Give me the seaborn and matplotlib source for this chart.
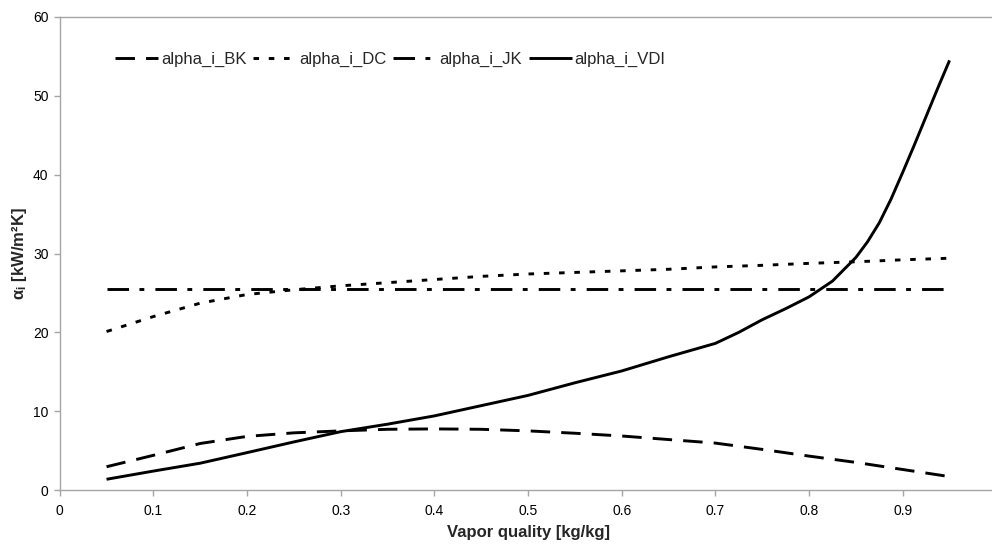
import matplotlib
matplotlib.use("Agg")
import matplotlib.pyplot as plt
import seaborn as sns
import pandas as pd

# Vapor quality grid [kg/kg]
quality = [0.05, 0.10, 0.15, 0.20, 0.25, 0.30, 0.35, 0.40, 0.45, 0.50,
           0.55, 0.60, 0.65, 0.70, 0.75, 0.80, 0.85, 0.90, 0.95]
quality_vdi = [0.05, 0.10, 0.15, 0.20, 0.25, 0.30, 0.35, 0.40, 0.45, 0.50,
               0.55, 0.60, 0.65, 0.70, 0.725, 0.75, 0.775, 0.80, 0.825, 0.85,
               0.8625, 0.875, 0.8875, 0.90, 0.9125, 0.925, 0.9375, 0.95]

# Heat transfer coefficients [kW/m2K]
alpha_bk = [2.95, 4.4, 5.9, 6.8, 7.25, 7.5, 7.7, 7.75, 7.7, 7.5,
            7.2, 6.85, 6.4, 5.95, 5.15, 4.3, 3.5, 2.6, 1.7]
alpha_dc = [20.1, 22.0, 23.7, 24.8, 25.4, 25.9, 26.3, 26.7, 27.1, 27.4,
            27.6, 27.8, 28.0, 28.3, 28.5, 28.75, 28.95, 29.2, 29.4]
alpha_jk = [25.45] * 19
alpha_vdi = [1.36, 2.4, 3.4, 4.74, 6.1, 7.4, 8.35, 9.4, 10.7, 12.0,
             13.6, 15.1, 16.9, 18.6, 20.0, 21.6, 23.0, 24.5, 26.5, 29.5,
             31.5, 33.9, 36.9, 40.3, 43.8, 47.4, 51.0, 54.5]

series_names = ["alpha_i_BK", "alpha_i_DC", "alpha_i_JK", "alpha_i_VDI"]
x_ticks = [0, 0.1, 0.2, 0.3, 0.4, 0.5, 0.6, 0.7, 0.8, 0.9]
x_tick_labels = ["0", "0.1", "0.2", "0.3", "0.4", "0.5", "0.6", "0.7", "0.8", "0.9"]
y_ticks = [0, 10, 20, 30, 40, 50, 60]

sns.set_theme(style="white")
plt.rcParams["font.family"] = ["Liberation Sans", "DejaVu Sans"]
plt.rcParams["mathtext.fontset"] = "custom"
plt.rcParams["mathtext.rm"] = "Liberation Sans"
plt.rcParams["mathtext.it"] = "Liberation Sans:italic"
plt.rcParams["mathtext.bf"] = "Liberation Sans:bold"
plt.rcParams["lines.scale_dashes"] = False

fig = plt.figure(figsize=(9.92, 5.45), dpi=100)
ax = fig.add_axes([59.7 / 992, 1 - 490 / 545, (996.4 - 59.7) / 992, (490 - 17) / 545])

lw = 2.1
styles = {
    "alpha_i_BK": (0, (14, 8)),
    "alpha_i_DC": (0, (4, 7)),
    "alpha_i_JK": (0, (15.5, 7.5, 3.5, 8)),
    "alpha_i_VDI": "-",
}
data = {
    "alpha_i_BK": (quality, alpha_bk),
    "alpha_i_DC": (quality, alpha_dc),
    "alpha_i_JK": (quality, alpha_jk),
    "alpha_i_VDI": (quality_vdi, alpha_vdi),
}

for name in series_names:
    xs, ys = data[name]
    df = pd.DataFrame({"x": xs, "y": ys})
    sns.lineplot(data=df, x="x", y="y", ax=ax, color="black", lw=lw,
                 linestyle=styles[name], label=name, dash_capstyle="butt",
                 solid_joinstyle="round", solid_capstyle="butt")

ax.set_xlim(0, 1.0)
ax.set_ylim(0, 60)
ax.set_xticks(x_ticks)
ax.set_xticklabels(x_tick_labels)
ax.set_yticks(y_ticks)

for side in ["left", "bottom", "top"]:
    ax.spines[side].set_color("#a6a6a6")
    ax.spines[side].set_linewidth(1.0)
ax.spines["right"].set_visible(False)

ax.tick_params(axis="both", which="major", direction="out", length=4, width=1,
               color="#a6a6a6", labelsize=10, labelcolor="black")
ax.tick_params(axis="x", bottom=True, pad=6)
ax.tick_params(axis="y", left=True, pad=4)

ax.set_xlabel("Vapor quality [kg/kg]", fontsize=12, fontweight="bold")
ax.xaxis.set_label_coords(0.5, -0.074)
ax.set_ylabel(r"$\mathbf{\alpha_i}$ [kW/m²K]", fontsize=12, fontweight="bold")
ax.yaxis.set_label_coords(-0.033, 0.5)

ax.legend(loc="center left", bbox_to_anchor=(115 / 992, 1 - 59 / 545),
          bbox_transform=fig.transFigure, ncol=4, frameon=False,
          fontsize=12, handlelength=2.6, handletextpad=0.15,
          columnspacing=0.42, borderpad=0, borderaxespad=0)

fig.savefig("out.png", dpi=100)
